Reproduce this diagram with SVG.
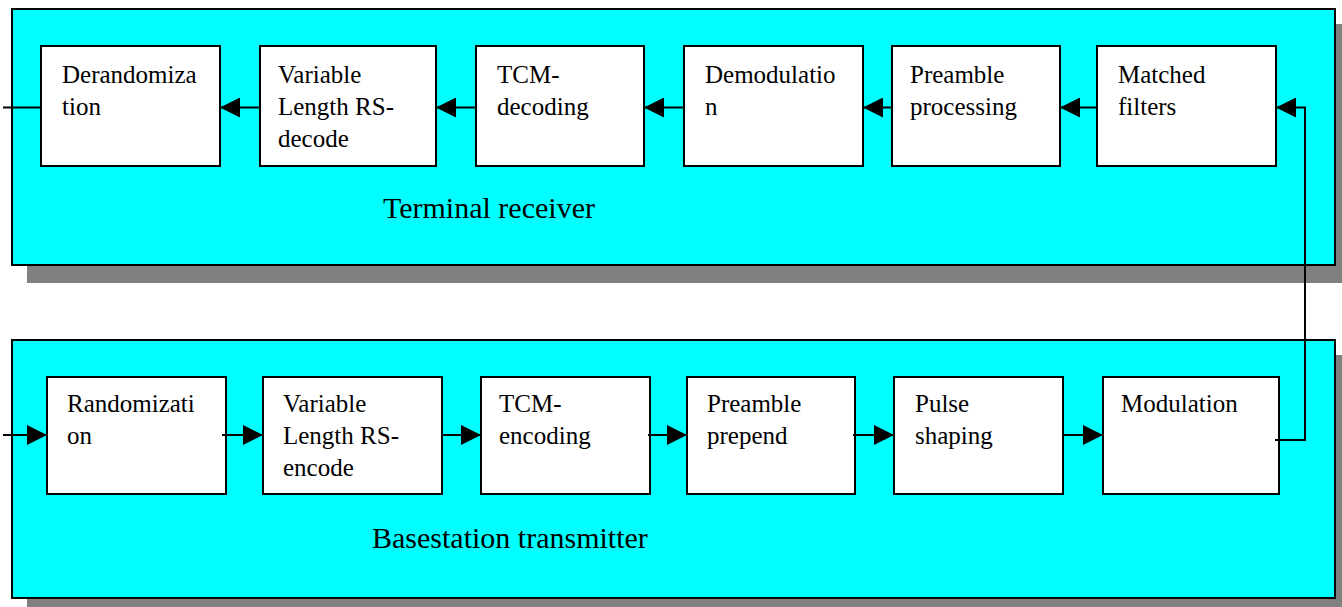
<svg xmlns="http://www.w3.org/2000/svg" width="1342" height="607" viewBox="0 0 1342 607">
<style>
.shadow{fill:#808080}
.panel{fill:#00ffff;stroke:#000;stroke-width:2}
.box{fill:#fff;stroke:#000;stroke-width:2}
.t{font-family:"Liberation Serif","Times New Roman",serif;font-size:25px;fill:#000}
.lbl{font-family:"Liberation Serif","Times New Roman",serif;font-size:30px;fill:#000}
.c{fill:none;stroke:#000;stroke-width:2}
</style>
<defs>
<marker id="ah" markerUnits="userSpaceOnUse" markerWidth="20" markerHeight="20" refX="20" refY="10" orient="auto">
<path d="M0,0 L20,10 L0,20 z" fill="#000"/>
</marker>
</defs>
<g id="receiver-panel">
<rect class="shadow" x="27" y="24" width="1323" height="259"/>
<rect class="panel" x="12" y="9" width="1323" height="256"/>
<text class="lbl" x="383" y="218">Terminal receiver</text>
</g>
<g id="transmitter-panel">
<rect class="shadow" x="27" y="355" width="1323" height="260"/>
<rect class="panel" x="12" y="340" width="1323" height="258"/>
<text class="lbl" x="372" y="548">Basestation transmitter</text>
</g>
<g id="derandomization"><rect class="box" x="41" y="46" width="179" height="120"/><text class="t" x="62" y="83">Derandomiza</text><text class="t" x="62" y="115">tion</text></g>
<g id="rs-decode"><rect class="box" x="260" y="46" width="176" height="120"/><text class="t" x="278" y="83">Variable</text><text class="t" x="278" y="115">Length RS-</text><text class="t" x="278" y="147">decode</text></g>
<g id="tcm-decoding"><rect class="box" x="476" y="46" width="168" height="120"/><text class="t" x="497" y="83">TCM-</text><text class="t" x="497" y="115">decoding</text></g>
<g id="demodulation"><rect class="box" x="684" y="46" width="179" height="120"/><text class="t" x="705" y="83">Demodulatio</text><text class="t" x="705" y="115">n</text></g>
<g id="preamble-processing"><rect class="box" x="892" y="46" width="168" height="120"/><text class="t" x="910" y="83">Preamble</text><text class="t" x="910" y="115">processing</text></g>
<g id="matched-filters"><rect class="box" x="1097" y="46" width="179" height="120"/><text class="t" x="1118" y="83">Matched</text><text class="t" x="1118" y="115">filters</text></g>
<g id="randomization"><rect class="box" x="47" y="377" width="179" height="117"/><text class="t" x="67" y="412">Randomizati</text><text class="t" x="67" y="444">on</text></g>
<g id="rs-encode"><rect class="box" x="263" y="377" width="179" height="117"/><text class="t" x="283" y="412">Variable</text><text class="t" x="283" y="444">Length RS-</text><text class="t" x="283" y="476">encode</text></g>
<g id="tcm-encoding"><rect class="box" x="481" y="377" width="169" height="117"/><text class="t" x="499" y="412">TCM-</text><text class="t" x="499" y="444">encoding</text></g>
<g id="preamble-prepend"><rect class="box" x="687" y="377" width="168" height="117"/><text class="t" x="707" y="412">Preamble</text><text class="t" x="707" y="444">prepend</text></g>
<g id="pulse-shaping"><rect class="box" x="894" y="377" width="169" height="117"/><text class="t" x="915" y="412">Pulse</text><text class="t" x="915" y="444">shaping</text></g>
<g id="modulation"><rect class="box" x="1103" y="377" width="176" height="117"/><text class="t" x="1121" y="412">Modulation</text></g>
<g id="connectors">
<path class="c" d="M41,107.5 H3"/>
<path class="c" d="M260,107.5 H220" marker-end="url(#ah)"/>
<path class="c" d="M476,107.5 H436" marker-end="url(#ah)"/>
<path class="c" d="M684,107.5 H644" marker-end="url(#ah)"/>
<path class="c" d="M892,107.5 H863" marker-end="url(#ah)"/>
<path class="c" d="M1097,107.5 H1060" marker-end="url(#ah)"/>
<path class="c" d="M1275,440 H1305 V107.5 H1276" marker-end="url(#ah)"/>
<path class="c" d="M3,435 H47" marker-end="url(#ah)"/>
<path class="c" d="M222,435 H263" marker-end="url(#ah)"/>
<path class="c" d="M442,435 H481" marker-end="url(#ah)"/>
<path class="c" d="M648,435 H687" marker-end="url(#ah)"/>
<path class="c" d="M853,435 H894" marker-end="url(#ah)"/>
<path class="c" d="M1062,435 H1103" marker-end="url(#ah)"/>
</g>
</svg>
